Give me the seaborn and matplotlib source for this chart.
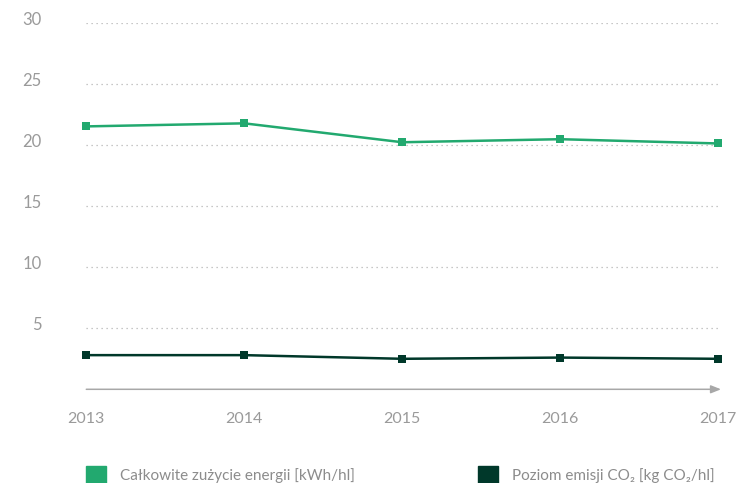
import matplotlib
matplotlib.use("Agg")
import matplotlib.pyplot as plt
import matplotlib.transforms as mtransforms
from matplotlib.patches import Patch
import seaborn as sns
import pandas as pd

years = [2013, 2014, 2015, 2016, 2017]
energy = [21.55, 21.8, 20.25, 20.5, 20.15]
co2 = [2.8, 2.8, 2.5, 2.6, 2.5]
yticks = [5, 10, 15, 20, 25, 30]
label_energy = "Całkowite zużycie energii [kWh/hl]"
label_co2 = "Poziom emisji CO₂ [kg CO₂/hl]"

GREEN = "#22a96f"
DARK = "#00382a"
GRAY_TXT = "#9a9a9a"

df = pd.DataFrame({
    "year": years * 2,
    "value": energy + co2,
    "series": [label_energy] * len(years) + [label_co2] * len(years),
})

sns.set_theme(style="white")
plt.rcParams["font.family"] = ["Lato", "DejaVu Sans"]

W, H = 749, 483
fig = plt.figure(figsize=(W / 100, H / 100), dpi=100)
ax = fig.add_axes([86.3 / W, 1 - 389.3 / H, (718.3 - 86.3) / W, (389.3 - 23.3) / H])

sns.lineplot(data=df, x="year", y="value", hue="series",
             palette={label_energy: GREEN, label_co2: DARK},
             marker="s", markersize=6, markeredgewidth=0, linewidth=1.8,
             legend=False, ax=ax, clip_on=False)

ax.set_xlim(2013, 2017)
ax.set_ylim(0, 30)
ax.set_xticks(years)
ax.set_xticklabels([str(y) for y in years])
ax.set_yticks(yticks)
ax.set_yticklabels([str(v) for v in yticks])
ax.set_xlabel("")
ax.set_ylabel("")

for s in ax.spines.values():
    s.set_visible(False)

ax.grid(axis="y", linestyle=(0, (1, 3)), color="#b5b5b5", linewidth=0.9)
ax.grid(axis="x", visible=False)

ax.tick_params(axis="y", length=0, pad=32, labelsize=12, labelcolor=GRAY_TXT)
ax.tick_params(axis="x", length=0, pad=16, labelsize=11.5, labelcolor=GRAY_TXT)
for lbl in ax.get_yticklabels():
    lbl.set_transform(lbl.get_transform() + mtransforms.ScaledTranslation(0, 4.5 / 100, fig.dpi_scale_trans))

ax.annotate("", xy=(721, 0), xytext=(2013, 0), xycoords=("figure pixels", "data"),
            textcoords="data",
            arrowprops=dict(arrowstyle="-|>,head_length=0.5,head_width=0.2",
                            color="#a8a8a8", lw=1.1, shrinkA=0, shrinkB=0),
            annotation_clip=False)

leg_kw = dict(frameon=False, fontsize=11, handlelength=1.3, handleheight=1.3,
              handletextpad=0.9, borderpad=0, borderaxespad=0, loc="lower left",
              labelcolor="#8c8c8c")
leg1 = fig.legend(handles=[Patch(color=GREEN, label=label_energy)],
                  bbox_to_anchor=(86 / W, 0.0), **leg_kw)
leg2 = fig.legend(handles=[Patch(color=DARK, label=label_co2)],
                  bbox_to_anchor=(478 / W, 0.0), **leg_kw)

fig.savefig("out.png", dpi=100)
